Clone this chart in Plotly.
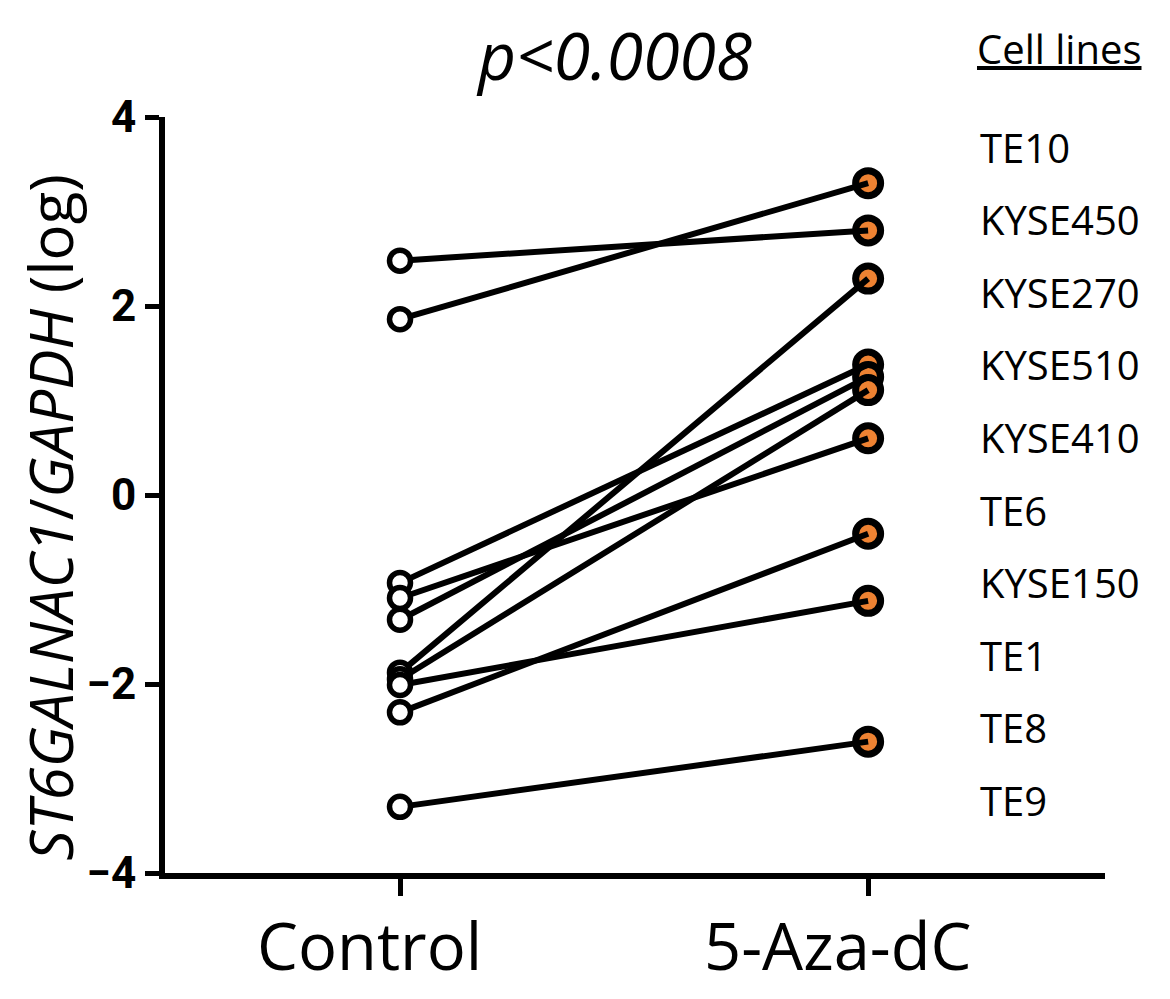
import plotly.graph_objects as go

groups = ['Control', '5-Aza-dC']
# paired values, one pair per cell line (log ratio)
control = [2.48, 1.86, -0.93, -1.09, -1.32, -1.88, -1.95, -2.01, -2.30, -3.30]
aza = [2.80, 3.30, 1.38, 0.60, 1.25, 2.29, 1.11, -1.12, -0.41, -2.61]
cell_lines = ['TE10', 'KYSE450', 'KYSE270', 'KYSE510', 'KYSE410',
              'TE6', 'KYSE150', 'TE1', 'TE8', 'TE9']
y_ticks = [-4, -2, 0, 2, 4]

txt_font = 'Open Sans'
orange = '#EE8232'

fig = go.Figure()

# treated markers first so the lines run into them
fig.add_trace(go.Scatter(
    x=[1] * len(aza), y=aza, mode='markers',
    marker=dict(size=25, color=orange, line=dict(color='black', width=7)),
    showlegend=False, hoverinfo='skip'))

for c, a in zip(control, aza):
    fig.add_trace(go.Scatter(
        x=[0, 1], y=[c, a], mode='lines',
        line=dict(color='black', width=6),
        showlegend=False, hoverinfo='skip'))

fig.add_trace(go.Scatter(
    x=[0] * len(control), y=control, mode='markers',
    marker=dict(size=21, color='white', line=dict(color='black', width=5.5)),
    showlegend=False, hoverinfo='skip'))

fig.update_xaxes(
    range=[-0.502, 1.506], tickvals=[0, 1], showticklabels=False,
    showline=True, linecolor='black', linewidth=6,
    ticks='outside', ticklen=17, tickwidth=5, tickcolor='black',
    showgrid=False, zeroline=False)

fig.update_yaxes(
    range=[-4, 4], tickvals=y_ticks,
    showline=True, linecolor='black', linewidth=6,
    ticks='outside', ticklen=14, tickwidth=5, tickcolor='black',
    tickfont=dict(family='Roboto', size=44, color='black', weight='bold'),
    showgrid=False, zeroline=False)

# group labels sit a little left of their ticks in the original
for i, g in enumerate(groups):
    fig.add_annotation(
        x=i - 0.066, xref='x', y=-0.095, yref='paper',
        text=g, showarrow=False, xanchor='center', yanchor='middle',
        font=dict(family=txt_font, size=65, color='black'))

# cell line labels down the right side
for i, name in enumerate(cell_lines):
    fig.add_annotation(
        x=0.865, xref='paper', y=3.68 - i * 0.768, yref='y',
        text=name, showarrow=False, xanchor='left', yanchor='middle',
        font=dict(family=txt_font, size=40, color='black'))

fig.add_annotation(
    x=0.862, xref='paper', y=1.09, yref='paper',
    text='<u>Cell lines</u>', showarrow=False, xanchor='left', yanchor='middle',
    font=dict(family=txt_font, size=40, color='black'))

fig.add_annotation(
    x=0.478, xref='paper', y=1.083, yref='paper',
    text='<i>p<0.0008</i>', showarrow=False, xanchor='center', yanchor='middle',
    font=dict(family=txt_font, size=66, color='black'))

fig.add_annotation(
    x=-0.1223, xref='paper', y=0.47, yref='paper', textangle=-90,
    text='<i>ST6GALNAC1</i>/<i>GAPDH</i> (log)', showarrow=False,
    xanchor='center', yanchor='middle',
    font=dict(family=txt_font, size=60, color='black'))

# page body adds 8px on top/left, so the figure is a bit smaller
fig.update_layout(
    width=1162, height=991,
    margin=dict(l=157, r=65, t=109, b=126),
    plot_bgcolor='white', paper_bgcolor='white')

fig.write_html('out.html')
